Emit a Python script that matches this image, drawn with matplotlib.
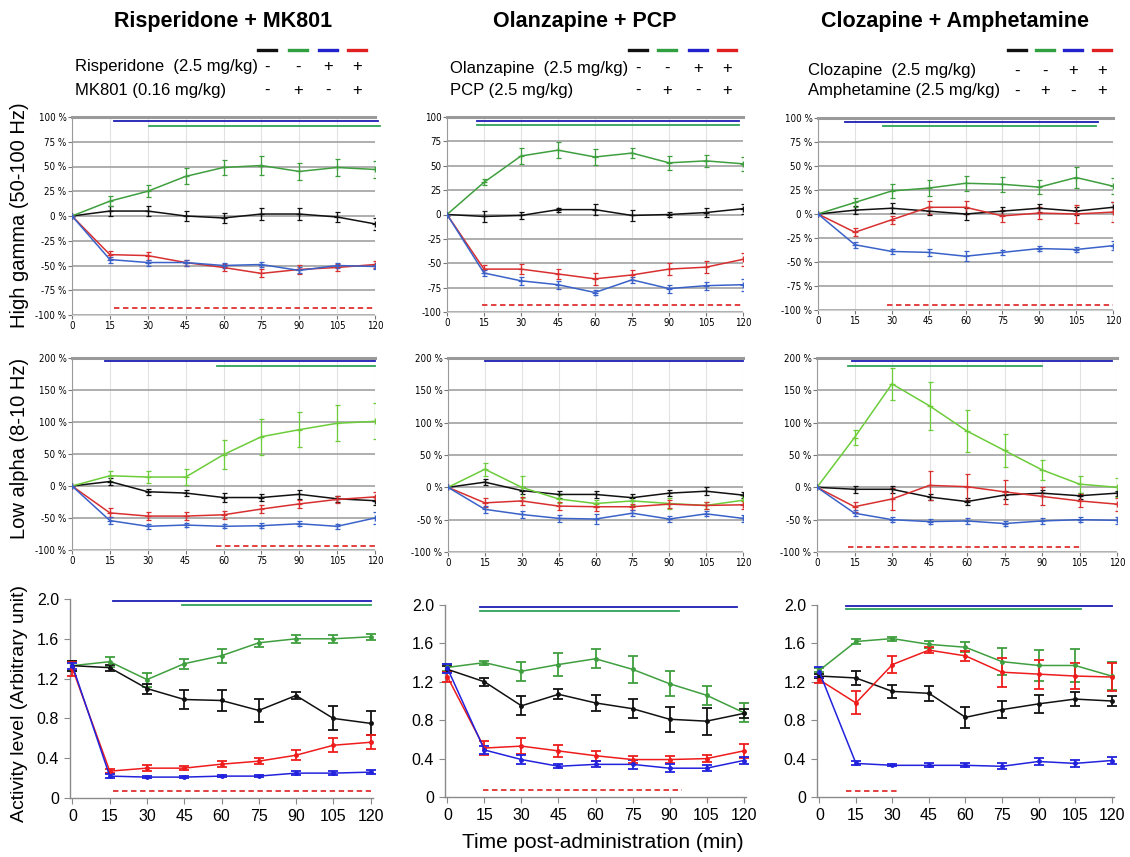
import matplotlib.pyplot as plt
import numpy as np

plt.rcParams['font.family'] = ['Liberation Sans', 'DejaVu Sans']

W, H = 1130, 857
t = [0, 15, 30, 45, 60, 75, 90, 105, 120]

# ---- row 1: high gamma (% of baseline), (mean, err) per group
rm_gamma = {
    'k': ([0, 5, 5, 0, -2, 2, 2, -1, -8], [0, 5, 5, 5, 5, 6, 6, 5, 6]),
    'g': ([0, 15, 25, 40, 49, 51, 45, 49, 47], [0, 5, 6, 8, 8, 10, 9, 9, 9]),
    'r': ([0, -39, -40, -47, -52, -58, -54, -52, -49], [0, 4, 4, 3, 4, 4, 5, 4, 4]),
    'b': ([0, -44, -47, -47, -50, -49, -55, -50, -51], [0, 3, 3, 3, 3, 3, 3, 3, 3]),
}
op_gamma = {
    'k': ([0, -2, -1, 5, 5, -1, 0, 2, 6], [0, 6, 4, 2, 6, 6, 3, 5, 5]),
    'g': ([0, 33, 60, 66, 59, 63, 53, 55, 52], [0, 3, 8, 8, 8, 5, 7, 6, 7]),
    'r': ([0, -56, -56, -61, -66, -62, -56, -54, -46], [0, 4, 5, 5, 6, 5, 6, 6, 7]),
    'b': ([0, -60, -68, -72, -80, -67, -76, -73, -72], [0, 3, 4, 4, 3, 3, 4, 4, 6]),
}
ca_gamma = {
    'k': ([0, 4, 6, 3, 0, 3, 6, 3, 7], [0, 4, 5, 4, 6, 4, 4, 4, 5]),
    'g': ([0, 12, 24, 27, 32, 31, 28, 38, 29], [0, 5, 7, 8, 8, 8, 7, 11, 8]),
    'r': ([0, -19, -6, 7, 7, -2, 1, 0, 2], [0, 4, 4, 7, 7, 6, 6, 9, 10]),
    'b': ([0, -32, -39, -40, -44, -40, -36, -37, -33], [0, 3, 3, 4, 5, 3, 3, 3, 5]),
}

# ---- row 2: low alpha (% of baseline)
rm_alpha = {
    'k': ([0, 7, -9, -11, -18, -18, -13, -20, -23], [0, 6, 5, 5, 7, 6, 7, 5, 6]),
    'g': ([0, 16, 14, 14, 49, 77, 88, 98, 101], [0, 8, 10, 12, 23, 28, 27, 28, 28]),
    'r': ([0, -42, -47, -47, -45, -36, -28, -21, -17], [0, 7, 6, 6, 6, 6, 6, 6, 7]),
    'b': ([0, -54, -63, -61, -63, -62, -59, -63, -50], [0, 5, 4, 3, 3, 4, 4, 4, 9]),
}
op_alpha = {
    'k': ([0, 8, -5, -11, -11, -16, -9, -6, -12], [0, 5, 5, 5, 5, 5, 5, 6, 5]),
    'g': ([0, 28, 0, -18, -25, -21, -25, -28, -20], [0, 10, 17, 6, 6, 6, 8, 6, 6]),
    'r': ([0, -24, -21, -29, -30, -30, -26, -28, -27], [0, 7, 6, 6, 6, 5, 6, 5, 6]),
    'b': ([0, -34, -42, -48, -49, -40, -49, -41, -48], [0, 5, 5, 5, 7, 5, 5, 4, 5]),
}
ca_alpha = {
    'k': ([0, -3, -3, -15, -22, -12, -9, -13, -9], [0, 5, 5, 5, 6, 6, 5, 5, 4]),
    'g': ([0, 77, 160, 126, 87, 57, 27, 5, 0], [0, 12, 25, 37, 33, 25, 15, 13, 15]),
    'r': ([0, -30, -18, 3, 1, -7, -14, -21, -26], [0, 8, 17, 22, 20, 18, 14, 10, 10]),
    'b': ([0, -40, -50, -53, -52, -56, -52, -50, -51], [0, 5, 4, 4, 4, 4, 4, 4, 5]),
}

# ---- row 3: locomotor activity (arbitrary unit)
rm_act = {
    'k': ([1.33, 1.31, 1.10, 0.99, 0.98, 0.88, 1.03, 0.80, 0.75], [0.05, 0.03, 0.05, 0.10, 0.11, 0.12, 0.04, 0.12, 0.12]),
    'g': ([1.33, 1.37, 1.19, 1.35, 1.43, 1.56, 1.60, 1.60, 1.62], [0.05, 0.05, 0.07, 0.05, 0.07, 0.04, 0.04, 0.04, 0.03]),
    'r': ([1.30, 0.27, 0.30, 0.30, 0.34, 0.37, 0.43, 0.53, 0.56], [0.07, 0.02, 0.03, 0.02, 0.03, 0.03, 0.05, 0.07, 0.07]),
    'b': ([1.33, 0.22, 0.21, 0.21, 0.22, 0.22, 0.25, 0.25, 0.26], [0.03, 0.02, 0.01, 0.01, 0.01, 0.01, 0.02, 0.02, 0.02]),
}
op_act = {
    'k': ([1.33, 1.20, 0.95, 1.07, 0.98, 0.92, 0.81, 0.79, 0.87], [0.03, 0.04, 0.10, 0.05, 0.08, 0.10, 0.13, 0.14, 0.05]),
    'g': ([1.35, 1.40, 1.31, 1.38, 1.44, 1.33, 1.18, 1.06, 0.88], [0.04, 0.02, 0.10, 0.12, 0.10, 0.14, 0.13, 0.10, 0.10]),
    'r': ([1.25, 0.51, 0.53, 0.48, 0.43, 0.39, 0.39, 0.40, 0.48], [0.05, 0.07, 0.08, 0.06, 0.05, 0.04, 0.04, 0.04, 0.07]),
    'b': ([1.34, 0.49, 0.39, 0.32, 0.34, 0.34, 0.30, 0.30, 0.38], [0.05, 0.04, 0.05, 0.02, 0.03, 0.05, 0.04, 0.03, 0.04]),
}
ca_act = {
    'k': ([1.26, 1.24, 1.10, 1.08, 0.83, 0.91, 0.97, 1.02, 1.00], [0.02, 0.07, 0.07, 0.08, 0.11, 0.09, 0.09, 0.07, 0.05]),
    'g': ([1.32, 1.62, 1.65, 1.59, 1.56, 1.41, 1.37, 1.37, 1.26], [0.02, 0.03, 0.02, 0.04, 0.05, 0.14, 0.16, 0.17, 0.15]),
    'r': ([1.22, 0.98, 1.38, 1.53, 1.47, 1.30, 1.28, 1.26, 1.25], [0.03, 0.12, 0.09, 0.03, 0.05, 0.15, 0.15, 0.14, 0.15]),
    'b': ([1.30, 0.35, 0.33, 0.33, 0.33, 0.32, 0.37, 0.35, 0.38], [0.05, 0.02, 0.01, 0.02, 0.02, 0.03, 0.04, 0.04, 0.04]),
}

# significance bars: (kind, y, t_start, t_end)
rm_gamma_sig = [('b', 96, 16.5, 121), ('g', 91, 30.5, 122), ('r', -93, 16.5, 120)]
op_gamma_sig = [('b', 96, 12, 118.5), ('g', 92, 12, 118.5), ('r', -93, 14, 120)]
ca_gamma_sig = [('b', 96, 11, 114), ('g', 92, 26.5, 113), ('r', -95, 28, 120)]
rm_alpha_sig = [('b', 195, 13, 120), ('g', 188, 57.5, 120), ('r', -93, 57, 120)]
op_alpha_sig = [('b', 195, 15, 120)]
ca_alpha_sig = [('b', 195, 14, 118), ('g', 188, 12.5, 90), ('r', -92, 12.5, 105)]
rm_act_sig = [('b', 1.98, 16.5, 120), ('g', 1.94, 44, 120), ('r', 0.07, 16.5, 120)]
op_act_sig = [('b', 1.98, 13, 117.5), ('g', 1.94, 13, 94), ('r', 0.07, 14.5, 95)]
ca_act_sig = [('b', 1.99, 11, 120), ('g', 1.96, 11, 107.5), ('r', 0.06, 11, 32)]

titles = ['Risperidone + MK801', 'Olanzapine + PCP', 'Clozapine + Amphetamine']
drug_a = ['Risperidone  (2.5 mg/kg)', 'Olanzapine  (2.5 mg/kg)', 'Clozapine  (2.5 mg/kg)']
drug_b = ['MK801 (0.16 mg/kg)', 'PCP (2.5 mg/kg)', 'Amphetamine (2.5 mg/kg)']
signs_a = ['-', '-', '+', '+']
signs_b = ['-', '+', '-', '+']

line_col = {'k': '#111111', 'g': '#3f9f3f', 'b': '#3a62c8', 'r': '#d83030'}
alpha_col = {'k': '#111111', 'g': '#6ccc3a', 'b': '#3a62c8', 'r': '#d83030'}
act_col = {'k': '#111111', 'g': '#3f9f3f', 'b': '#2222dd', 'r': '#ee1c1c'}
sig_col = {'b': '#1c1cb4', 'g': '#2fa35a', 'r': '#e03030'}

fig = plt.figure(figsize=(W / 100, H / 100), dpi=100)


def box(l, t_, r, b):
    return [l / W, 1 - b / H, (r - l) / W, (b - t_) / H]


def sig_lines(ax, sig):
    for kind, y, x0, x1 in sig:
        ax.plot([x0, x1], [y, y], color=sig_col[kind], lw=1.3,
                ls=(0, (3, 2)) if kind == 'r' else '-', clip_on=False, zorder=4)


def pct_panel(rect, data, cols, lo, hi, step, sig, pct=True):
    ax = fig.add_axes(box(*rect))
    ax.set_xlim(0, 120)
    ax.set_ylim(lo, hi)
    ax.set_xticks(t)
    ax.set_yticks(np.arange(lo, hi + 1, step))
    ax.set_yticklabels([f'{v} %' if pct else f'{v}' for v in np.arange(lo, hi + 1, step)])
    ax.grid(axis='y', color='#a8a8a8', lw=1.3)
    ax.grid(axis='x', color='#e2e2e2', lw=0.8)
    ax.set_axisbelow(True)
    ax.spines['right'].set_visible(False)
    ax.spines['top'].set_color('#9a9a9a')
    ax.spines['top'].set_linewidth(2.2)
    ax.spines['left'].set_color('#9a9a9a')
    ax.spines['bottom'].set_color('#d0d0d0')
    ax.tick_params(length=3, width=0.8, color='#777777', labelsize=7, pad=1)
    for lab in ax.get_xticklabels() + ax.get_yticklabels():
        lab.set_fontfamily(['DejaVu Sans'])
        lab.set_fontstretch('condensed')
    for k in ['k', 'g', 'r', 'b']:
        m, e = data[k]
        ax.errorbar(t, m, yerr=e, color=cols[k], lw=1.1, elinewidth=0.9,
                    marker='+', ms=4, mew=0.9, capsize=1.8, capthick=0.9, zorder=3)
    sig_lines(ax, sig)
    return ax


def act_panel(rect, data, sig):
    ax = fig.add_axes(box(*rect))
    ax.set_xlim(-1, 121)
    ax.set_ylim(0, 2.0)
    ax.set_xticks(t)
    ax.set_yticks([0, 0.4, 0.8, 1.2, 1.6, 2.0])
    ax.set_yticklabels(['0', '0.4', '0.8', '1.2', '1.6', '2.0'])
    for s in ['top', 'right']:
        ax.spines[s].set_visible(False)
    for s in ['left', 'bottom']:
        ax.spines[s].set_color('#8a8a8a')
        ax.spines[s].set_linewidth(1.0)
    ax.tick_params(length=4, color='#8a8a8a', labelsize=11.5, pad=4)
    for k in ['g', 'k', 'r', 'b']:
        m, e = data[k]
        ax.errorbar(t, m, yerr=e, color=act_col[k], lw=1.1, elinewidth=1.3,
                    marker='o', ms=2.5, capsize=3.5, capthick=1.3, zorder=3, clip_on=False)
    sig_lines(ax, sig)
    return ax


pct_panel((72, 117, 375, 315), rm_gamma, line_col, -100, 100, 25, rm_gamma_sig)
pct_panel((447, 117, 743, 312), op_gamma, line_col, -100, 100, 25, op_gamma_sig, pct=False)
pct_panel((818, 118, 1113, 310), ca_gamma, line_col, -100, 100, 25, ca_gamma_sig)

pct_panel((72, 358, 375, 550), rm_alpha, alpha_col, -100, 200, 50, rm_alpha_sig)
pct_panel((448, 358, 743, 552), op_alpha, alpha_col, -100, 200, 50, op_alpha_sig)
pct_panel((817, 358, 1117, 552), ca_alpha, alpha_col, -100, 200, 50, ca_alpha_sig)

act_panel((70, 599, 373, 798), rm_act, rm_act_sig)
act_panel((445, 605, 746, 797), op_act, op_act_sig)
act_panel((817, 605, 1114, 797), ca_act, ca_act_sig)

# header: titles and treatment tables
title_x = [223, 585, 955]
label_x = [75, 450, 808]
sign_x = [[267, 298, 328, 357], [638, 667, 698, 727], [1017, 1045, 1073, 1102]]
row_y = [[67, 90], [68, 90], [71, 91]]
seg_col = ['#111111', '#2f9f3f', '#2222cc', '#e02020']
for i in range(3):
    fig.text(title_x[i] / W, 1 - 22 / H, titles[i], ha='center', va='center',
             fontsize=15.5, fontweight='bold')
    fig.text(label_x[i] / W, 1 - row_y[i][0] / H, drug_a[i], ha='left', va='center', fontsize=12)
    fig.text(label_x[i] / W, 1 - row_y[i][1] / H, drug_b[i], ha='left', va='center', fontsize=12)
    for j in range(4):
        xc = sign_x[i][j]
        fig.add_artist(plt.Line2D([(xc - 9) / W, (xc + 9) / W], [1 - 50 / H, 1 - 50 / H],
                                  color=seg_col[j], lw=2.4))
        fig.text(xc / W, 1 - row_y[i][0] / H, signs_a[j], ha='center', va='center', fontsize=12)
        fig.text(xc / W, 1 - row_y[i][1] / H, signs_b[j], ha='center', va='center', fontsize=12)

fig.text(20 / W, 1 - 215 / H, 'High gamma (50-100 Hz)', rotation=90, ha='center', va='center', fontsize=14.5)
fig.text(20 / W, 1 - 448 / H, 'Low alpha (8-10 Hz)', rotation=90, ha='center', va='center', fontsize=14.5)
fig.text(20 / W, 1 - 703 / H, 'Activity level (Arbitrary unit)', rotation=90, ha='center', va='center', fontsize=14)
fig.text(603 / W, 1 - 843 / H, 'Time post-administration (min)', ha='center', va='center', fontsize=15)

fig.savefig('out.png', dpi=100)
